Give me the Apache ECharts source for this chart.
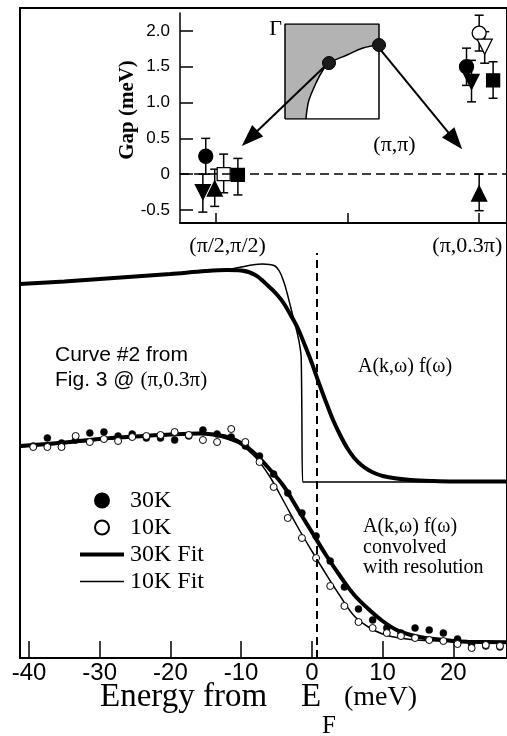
<!DOCTYPE html>
<html><head><meta charset="utf-8">
<script src="https://cdn.jsdelivr.net/npm/echarts@6/dist/echarts.min.js"></script>
<style>html,body{margin:0;padding:0;background:#fff}#c{width:507px;height:736px}</style>
</head><body><div id="c"></div>
<script>
// ---------- main panel data (energy in meV, intensity in arbitrary units) ----------
const energyTicks = [-40, -30, -20, -10, 0, 10, 20];
const ptsE = [-39.4,-37.4,-35.4,-33.4,-31.4,-29.4,-27.4,-25.4,-23.4,-21.4,-19.4,-17.4,-15.4,-13.4,-11.4,-9.4,-7.4,-5.4,-3.4,-1.4,0.6,2.6,4.6,6.6,8.6,10.6,12.6,14.6,16.6,18.6,20.6,22.6,24.6,26.6];
const pts30K = [212,220,215,218,225,226,222,224,220,220,218,222,228,224,221,212,202,184,165,145,122,97,71,49,38,30,25,30,28,25,19,14,12,11];
const pts10K = [211,211,211,222,216,219,217,221,222,223,226,223,218,216,229,216,196,171,140,120,100,72,52,36,30,25,22,20,18,17,14,10,13,12];

const fitE  = [-41.3,-35,-30,-25,-20,-16,-13.9,-12,-10,-8,-6,-4,-2,0,2,4,6,8,10,12,14,16,18,20,22,27.6];
const fit30 = [212,215.5,219,221.5,223.5,224.5,223.5,221,215,204,189,172,149,126,103,82,63,49,37,28,23,20,18.5,17,16.3,15.7];
const fit10 = [211,214.5,218,221,223.5,224,222.5,219,213,201,182,157,131,107,84,62,42,31,24,20.5,18.5,17.5,17,16.2,16,15.7];

const topE     = [-41.3,-35,-30,-25,-20,-15,-12,-10,-8,-6,-5,-4,-3,-2,-1,0,1,2,3,4,5,6,7,8,9,10,12,14,17,20,27.6];
const topThick = [374,376.5,379,381.5,384,387,388,387.5,383,371,364,355,343,330,313,295,275,256,238,223,210,200,193,188,184.5,182,179.5,178,177,176.5,176.5];
const topThinE = [-41.3,-35,-30,-25,-20,-15,-12,-10,-8.5,-7,-6,-5.2,-4.6,-4,-3.5,-3,-2.5,-2,-1.7,-1.5,-1.3,-1.2,0,27.6];
const topThin  = [374,376.5,379,381.5,384,387,388.5,391,393,394,393.5,392,387,377,365,351,337,323,312,300,176,176,176,176];
const fermiE = 0.66;
const dashTop = 405;

// ---------- inset (gap) data ----------
const gapXMin = -0.1358, gapXMax = 1.1057;
const gapTickPos = [0, 0.5, 1];
const gapLabelPos = [0.045, 0.955];
const gapLabels = ['(π/2,π/2)', '(π,0.3π)'];
const gapYTicks = [-0.5, 0, 0.5, 1, 1.5, 2];
const gapPos  = [-0.038,-0.049,-0.004,0.030,0.084, 0.952,1.000,1.021,0.971,1.053,1.000];
const gapVal  = [0.25,-0.25,-0.20,0.00,-0.01, 1.50,1.97,1.78,1.29,1.31,-0.27];
const gapLow  = [0.00,-0.53,-0.45,-0.26,-0.29, 1.24,1.72,1.55,1.01,1.06,-0.51];
const gapHigh = [0.50,0.00,0.07,0.28,0.22, 1.76,2.22,1.99,1.59,1.57,0.00];
const gapShape = ['circle','tridown','triangle','rect','rect','circle','circle','tridown','tridown','rect','triangle'];
const gapFilled = [1,1,1,0,1,1,0,0,1,1,1];

// ---------- Brillouin zone sketch ----------
const fsX = [0.223,0.234,0.255,0.33,0.404,0.468,0.66,0.83,1.0];
const fsY = [0,0.095,0.2,0.379,0.516,0.589,0.674,0.747,0.779];
const sqX = [0,1,1,0,0];
const sqY = [0,0,1,1,0];
const kX = [0.468, 1.0];
const kY = [0.589, 0.779];
const arrows = [[[0.426,1.55],[0.129,0.501]], [[0.611,1.802],[0.909,0.466]]];

const zip = (a, b) => a.map((v, i) => [v, b[i]]);
const SERIF = 'Liberation Serif', SANS = 'Liberation Sans';

const gapData = gapPos.map((x, i) => {
  const s = gapShape[i];
  const sym = s === 'tridown' ? 'triangle' : s;
  const size = s === 'circle' ? 14 : (s === 'rect' ? 13 : 15);
  return {
    value: [x, gapVal[i]],
    symbol: sym,
    symbolRotate: s === 'tridown' ? 180 : 0,
    symbolSize: size,
    itemStyle: { color: gapFilled[i] ? '#000' : '#fff', borderColor: '#000', borderWidth: 1.3, opacity: 1 }
  };
});
const errData = gapPos.map((x, i) => [x, gapLow[i], gapHigh[i]]);

const noSym = { color: 'rgba(0,0,0,0)', borderColor: 'rgba(0,0,0,0)', borderWidth: 0, opacity: 0 };

const chart = echarts.init(document.getElementById('c'), null, { renderer: 'canvas' });
chart.setOption({
  animation: false,
  backgroundColor: '#fff',
  grid: [
    { left: 20, top: 8, right: -2, bottom: 78, show: true, borderColor: '#000', borderWidth: 2, backgroundColor: 'transparent' },
    { left: 180, top: 13, right: -2, height: 210 },
    { left: 285, top: 24, width: 94, height: 95, show: true, backgroundColor: '#b3b3b3', borderWidth: 0 }
  ],
  xAxis: [
    { gridIndex: 0, type: 'value', min: -41.27, max: 27.6,
      axisLine: { show: true, onZero: false, lineStyle: { color: '#000', width: 2 } },
      axisTick: { show: true, inside: true, length: 17, customValues: energyTicks, lineStyle: { color: '#000', width: 1.5 } },
      axisLabel: { customValues: energyTicks, color: '#000', fontFamily: SANS, fontSize: 24, margin: 3 },
      splitLine: { show: false } },
    { gridIndex: 1, type: 'value', min: gapXMin, max: gapXMax,
      axisLine: { show: true, onZero: false, lineStyle: { color: '#000', width: 2 } },
      axisTick: { show: true, inside: true, length: 10, customValues: gapTickPos, lineStyle: { color: '#000', width: 1.5 } },
      axisLabel: { customValues: gapLabelPos, formatter: v => (v < 0.5 ? gapLabels[0] : gapLabels[1]), color: '#000', fontFamily: SERIF, fontSize: 22, margin: 12 },
      splitLine: { show: false } },
    { gridIndex: 2, type: 'value', min: 0, max: 1, show: false }
  ],
  yAxis: [
    { gridIndex: 0, type: 'value', min: 0, max: 650,
      axisLine: { show: true, onZero: false, lineStyle: { color: '#000', width: 1.5 } },
      axisTick: { show: false }, axisLabel: { show: false }, splitLine: { show: false } },
    { gridIndex: 1, type: 'value', min: -0.682, max: 2.251,
      axisLine: { show: true, onZero: false, lineStyle: { color: '#000', width: 1.5 } },
      axisTick: { show: true, inside: true, length: 13, customValues: gapYTicks, lineStyle: { color: '#000', width: 1.5 } },
      axisLabel: { customValues: gapYTicks, formatter: v => (v === 0 ? '0' : v.toFixed(1)), color: '#000', fontFamily: SANS, fontSize: 17, margin: 10 },
      splitLine: { show: false } },
    { gridIndex: 2, type: 'value', min: 0, max: 1, show: false }
  ],
  legend: {
    left: 73, top: 482, orient: 'vertical', itemWidth: 44, itemHeight: 14, itemGap: 0,
    selectedMode: false,
    textStyle: { fontFamily: SERIF, fontSize: 24, color: '#000', lineHeight: 27, padding: [0, 0, 0, 1] },
    data: [
      { name: '30K' },
      { name: '10K' },
      { name: '30K Fit', itemStyle: noSym, lineStyle: { width: 4, color: '#000' } },
      { name: '10K Fit', itemStyle: noSym, lineStyle: { width: 1.5, color: '#000' } }
    ]
  },
  series: [
    { name: 'A top thick', type: 'line', xAxisIndex: 0, yAxisIndex: 0, data: zip(topE, topThick), smooth: 0.35, symbol: 'none',
      lineStyle: { color: '#000', width: 4 } },
    { name: 'A top thin', type: 'line', xAxisIndex: 0, yAxisIndex: 0, data: zip(topThinE, topThin), smooth: 0.4, symbol: 'none',
      lineStyle: { color: '#000', width: 1.5 } },
    { name: '30K Fit', type: 'line', xAxisIndex: 0, yAxisIndex: 0, data: zip(fitE, fit30), smooth: 0.35, symbol: 'none',
      lineStyle: { color: '#000', width: 4 }, itemStyle: { color: '#000' },
      markLine: { silent: true, symbol: 'none', label: { show: false },
        lineStyle: { color: '#000', width: 2, type: [8, 5] },
        data: [[{ coord: [fermiE, 0] }, { coord: [fermiE, dashTop] }]] } },
    { name: '10K Fit', type: 'line', xAxisIndex: 0, yAxisIndex: 0, data: zip(fitE, fit10), smooth: 0.35, symbol: 'none',
      lineStyle: { color: '#000', width: 1.5 }, itemStyle: { color: '#000' } },
    { name: '30K', type: 'scatter', xAxisIndex: 0, yAxisIndex: 0, data: zip(ptsE, pts30K), symbol: 'circle', symbolSize: 7,
      itemStyle: { color: '#000', borderColor: '#000', borderWidth: 0.5, opacity: 1 }, z: 4 },
    { name: '10K', type: 'scatter', xAxisIndex: 0, yAxisIndex: 0, data: zip(ptsE, pts10K), symbol: 'circle', symbolSize: 7,
      itemStyle: { color: '#fff', borderColor: '#000', borderWidth: 1, opacity: 1 }, z: 4 },

    // inset error bars
    { name: 'gap err', type: 'custom', xAxisIndex: 1, yAxisIndex: 1, data: errData, encode: { x: 0, y: [1, 2] }, z: 3,
      renderItem: (params, api) => {
        const x = api.value(0), lo = api.value(1), hi = api.value(2);
        const p1 = api.coord([x, hi]), p2 = api.coord([x, lo]);
        const w = 4.5, st = { stroke: '#000', lineWidth: 1.5 };
        return { type: 'group', children: [
          { type: 'line', shape: { x1: p1[0], y1: p1[1], x2: p2[0], y2: p2[1] }, style: st },
          { type: 'line', shape: { x1: p1[0] - w, y1: p1[1], x2: p1[0] + w, y2: p1[1] }, style: st },
          { type: 'line', shape: { x1: p2[0] - w, y1: p2[1], x2: p2[0] + w, y2: p2[1] }, style: st }
        ] };
      } },
    { name: 'gap', type: 'scatter', xAxisIndex: 1, yAxisIndex: 1, data: gapData, z: 4,
      markLine: { silent: true, label: { show: false }, symbol: ['none', 'triangle'], symbolSize: [16, 22],
        lineStyle: { color: '#000', width: 2, type: 'solid' },
        data: [
          [{ coord: [gapXMin, 0], symbol: 'none', lineStyle: { color: '#000', width: 1.5, type: [9, 5] } },
           { coord: [gapXMax, 0], symbol: 'none' }],
          [{ coord: arrows[0][0], symbol: 'none' }, { coord: arrows[0][1], symbol: 'triangle', symbolSize: [16, 22] }],
          [{ coord: arrows[1][0], symbol: 'none' }, { coord: arrows[1][1], symbol: 'triangle', symbolSize: [16, 22] }]
        ] } },

    // Brillouin-zone sketch
    { name: 'fs', type: 'line', xAxisIndex: 2, yAxisIndex: 2, data: zip(fsX, fsY), smooth: 0.4, symbol: 'none',
      lineStyle: { color: '#000', width: 1.5 }, areaStyle: { color: '#fff', opacity: 1 }, z: 5 },
    { name: 'bz', type: 'line', xAxisIndex: 2, yAxisIndex: 2, data: zip(sqX, sqY), symbol: 'none',
      lineStyle: { color: '#000', width: 1.5 }, z: 6 },
    { name: 'kpts', type: 'scatter', xAxisIndex: 2, yAxisIndex: 2, data: zip(kX, kY), symbol: 'circle', symbolSize: 13,
      itemStyle: { color: '#1a1a1a', borderColor: '#000', borderWidth: 1, opacity: 1 }, z: 7 }
  ],
  graphic: [
    { type: 'text', x: 275.5, y: 29.5, style: { text: 'Γ', font: '22px "Liberation Serif"', fill: '#000', align: 'center', verticalAlign: 'middle' } },
    { type: 'text', x: 394.5, y: 145, style: { text: '(π,π)', font: '22px "Liberation Serif"', fill: '#000', align: 'center', verticalAlign: 'middle' } },
    { type: 'text', x: 128, y: 110, rotation: Math.PI / 2, style: { text: 'Gap (meV)', font: 'bold 21px "Liberation Serif"', fill: '#000', align: 'center', verticalAlign: 'middle' } },
    { type: 'text', x: 55, y: 355, style: { text: 'Curve #2 from', font: '21px "Liberation Sans"', fill: '#000', align: 'left', verticalAlign: 'middle' } },
    { type: 'text', x: 55, y: 380, style: { text: '{s|Fig. 3 @ }{t|(π,0.3π)}', align: 'left', verticalAlign: 'middle',
        rich: { s: { fontFamily: SANS, fontSize: 21, color: '#000' }, t: { fontFamily: SERIF, fontSize: 21, color: '#000' } } } },
    { type: 'text', x: 358, y: 367, style: { text: 'A(k,ω) f(ω)', font: '20px "Liberation Serif"', fill: '#000', align: 'left', verticalAlign: 'middle' } },
    { type: 'text', x: 363, y: 516.75, style: { text: 'A(k,ω) f(ω)\nconvolved\nwith resolution', font: '20px "Liberation Serif"', lineHeight: 20.5, fill: '#000', align: 'left', verticalAlign: 'top' } },
    // x-axis title: "Energy from E_F (meV)"
    { type: 'text', x: 100, y: 697.5, style: { text: 'Energy from', font: '33px "Liberation Serif"', fill: '#000', align: 'left', verticalAlign: 'middle' } },
    { type: 'text', x: 301, y: 697.5, style: { text: 'E', font: '33px "Liberation Serif"', fill: '#000', align: 'left', verticalAlign: 'middle' } },
    { type: 'text', x: 322, y: 726.5, style: { text: 'F', font: '25px "Liberation Serif"', fill: '#000', align: 'left', verticalAlign: 'middle' } },
    { type: 'text', x: 344, y: 697.5, style: { text: '(meV)', font: '28px "Liberation Serif"', fill: '#000', align: 'left', verticalAlign: 'middle' } }
  ]
});
</script>
</body></html>
